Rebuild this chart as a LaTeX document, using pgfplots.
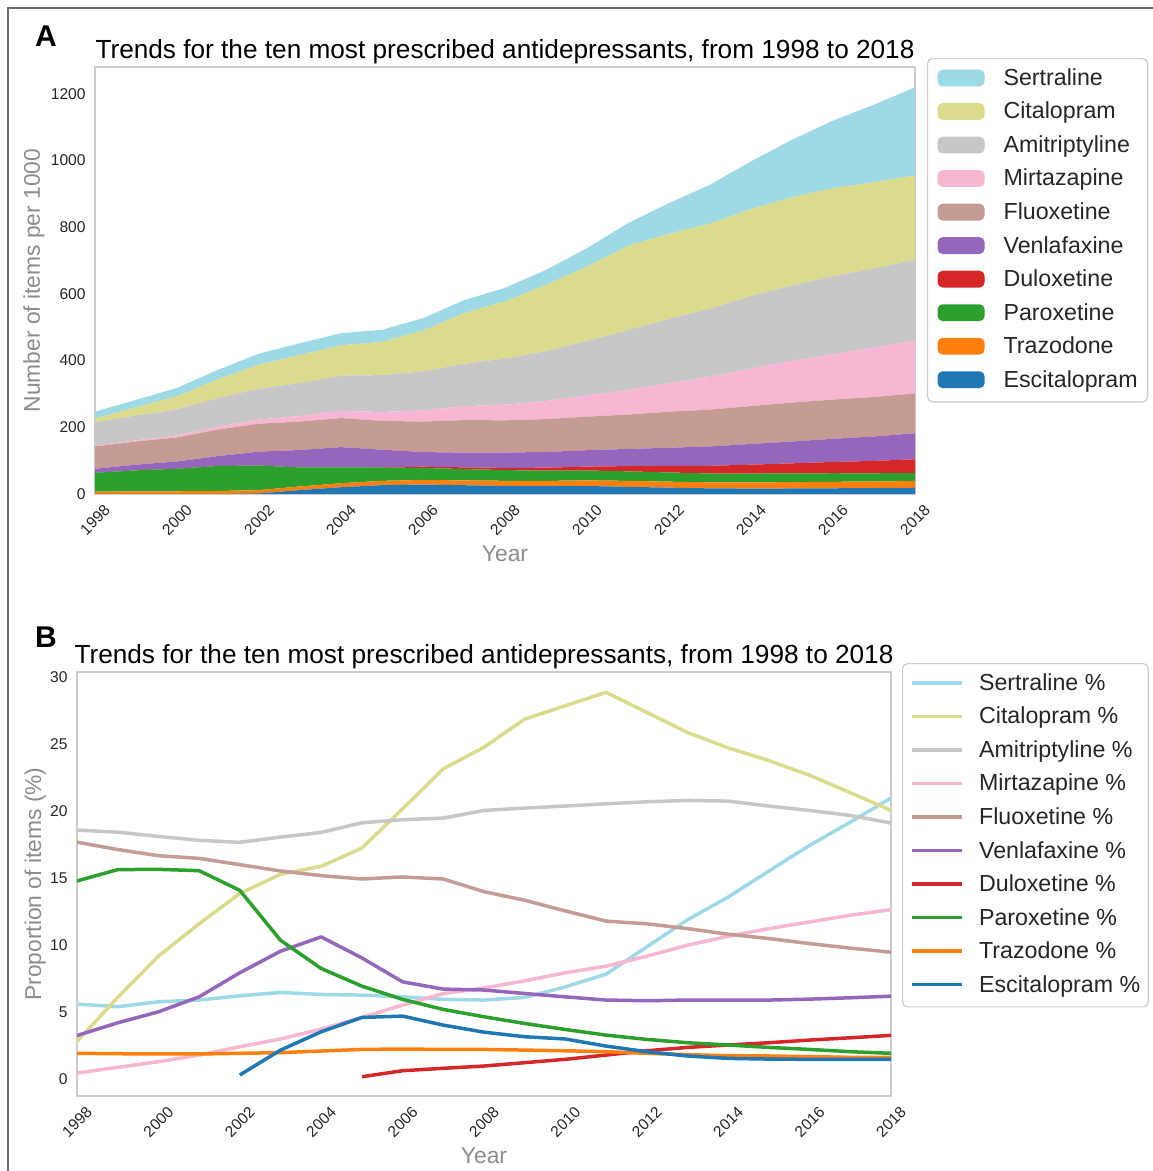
\documentclass[border=0pt]{standalone}
\usepackage{fontspec}
\setmainfont{Liberation Sans}
\usepackage{pgfplots}
\usepackage{pgfplotstable}
\pgfplotsset{compat=1.18}

\definecolor{cSer}{HTML}{9EDAE5}
\definecolor{cCit}{HTML}{DBDB8D}
\definecolor{cAmi}{HTML}{C7C7C7}
\definecolor{cMir}{HTML}{F7B6D2}
\definecolor{cFlu}{HTML}{C49C94}
\definecolor{cVen}{HTML}{9467BD}
\definecolor{cDul}{HTML}{D62728}
\definecolor{cPar}{HTML}{2CA02C}
\definecolor{cTra}{HTML}{FF7F0E}
\definecolor{cEsc}{HTML}{1F77B4}
\definecolor{txt}{HTML}{262626}
\definecolor{lbl}{HTML}{8C8C8C}
\definecolor{spine}{HTML}{CCCCCC}
\definecolor{outline}{HTML}{6E6E6E}

% items per 1000, stacked from the bottom (esc) to the top (ser)
\pgfplotstableread{
year  esc   tra   par   dul   ven   flu    mir    ami    cit    ser
1998  0     7.3   56.1  0     12.3  67.1   1.7    70.5   10.6   21.2
1999  0     7.6   63.3  0     17.0  69.4   3.5    74.6   24.7   21.8
2000  0     8.1   67.7  0     21.7  72.1   5.6    78.3   39.6   24.9
2001  0     9.0   75.0  0     29.6  79.5   8.6    86.0   55.9   28.4
2002  1.6   10.0  73.8  0     41.5  83.8   12.6   92.6   72.5   32.5
2003  11.8  10.8  56.9  0     52.4  85.3   16.4   99.1   83.9   35.5
2004  20.2  12.0  47.4  0     60.9  87.1   21.4   105.7  91.2   36.2
2005  26.6  12.8  40.1  1.0   52.3  86.3   26.6   110.6  99.7   36.2
2006  28.4  13.6  36.0  3.8   43.9  91.4   33.4   117.2  122.2  37.1
2007  26.3  14.4  34.0  5.2   43.9  97.7   41.7   127.4  151.4  38.9
2008  24.2  15.3  32.1  6.7   45.9  96.6   46.9   138.5  171.1  40.7
2009  23.3  15.9  30.6  9.0   47.2  98.6   54.2   149.5  198.6  45.0
2010  23.9  16.9  29.6  11.8  49.1  100.5  63.5   163.2  223.3  55.1
2011  21.5  17.8  28.6  15.6  51.5  103.0  73.6   179.6  252.3  68.4
2012  19.0  17.9  27.6  19.6  54.5  108.0  85.5   192.9  255.1  92.0
2013  16.9  17.9  26.6  23.2  58.0  110.4  98.2   204.5  254.4  116.9
2014  16.2  18.3  26.7  26.7  62.0  113.7  112.1  218.3  260.1  142.9
2015  16.5  19.1  26.2  30.1  65.5  116.6  124.8  226.5  264.2  172.6
2016  17.1  19.4  25.7  33.8  69.4  117.6  136.4  233.2  263.7  202.8
2017  17.8  19.6  24.6  37.2  73.3  118.2  147.9  238.0  258.5  232.0
2018  18.5  20.4  24.2  41.1  77.9  119.4  159.4  240.9  252.7  264.5
}\itemsTable

% share of all antidepressant items (%)
\pgfplotstableread{
year  ser    cit    ami    mir    flu    ven    dul   par    tra   esc
1998  5.60   2.80   18.60  0.45   17.70  3.25   nan   14.80  1.92  nan
1999  5.40   6.10   18.45  0.87   17.15  4.20   nan   15.65  1.89  nan
2000  5.77   9.18   18.13  1.29   16.69  5.02   nan   15.67  1.87  nan
2001  5.90   11.60  17.84  1.79   16.49  6.14   nan   15.57  1.87  nan
2002  6.22   13.86  17.69  2.41   16.02  7.94   nan   14.10  1.92  0.30
2003  6.47   15.30  18.08  2.99   15.55  9.55   nan   10.37  1.97  2.16
2004  6.32   15.90  18.43  3.73   15.20  10.62  nan   8.26   2.09  3.53
2005  6.27   17.26  19.15  4.60   14.95  9.05   0.17  6.94   2.21  4.60
2006  6.14   20.20  19.38  5.52   15.10  7.26   0.62  5.95   2.24  4.70
2007  5.95   23.18  19.50  6.39   14.95  6.72   0.80  5.20   2.21  4.03
2008  5.90   24.80  20.07  6.80   14.00  6.65   0.97  4.65   2.21  3.50
2009  6.10   26.90  20.25  7.34   13.36  6.39   1.22  4.15   2.16  3.16
2010  6.89   27.90  20.40  7.94   12.56  6.14   1.47  3.70   2.11  2.99
2011  7.84   28.90  20.57  8.43   11.80  5.90   1.79  3.28   2.04  2.46
2012  9.88   27.40  20.72  9.18   11.60  5.85   2.11  2.96   1.92  2.04
2013  11.90  25.90  20.82  10.00  11.24  5.90   2.36  2.71   1.82  1.72
2014  13.60  24.75  20.77  10.67  10.82  5.90   2.54  2.54   1.74  1.54
2015  15.55  23.80  20.40  11.24  10.50  5.90   2.71  2.36   1.72  1.49
2016  17.46  22.70  20.07  11.74  10.12  5.97   2.91  2.21   1.67  1.47
2017  19.20  21.40  19.70  12.24  9.78   6.07   3.08  2.04   1.62  1.47
2018  21.00  20.07  19.13  12.66  9.48   6.19   3.26  1.92   1.62  1.47
}\shareTable

\pgfplotsset{
  panel/.style={
    scale only axis,
    axis line style={draw=spine, line width=0.75pt},
    major tick length=0pt,
    xmin=1998, xmax=2018,
    xtick={1998,2000,...,2018},
    /pgf/number format/1000 sep={},
    /pgf/number format/assume math mode=true,
    tick label style={font=\fontsize{7.8}{9}\selectfont, text=txt},
    xticklabel style={rotate=45, anchor=center, inner sep=0pt},
    xticklabel shift=13pt,
    yticklabel style={anchor=east, inner sep=0pt},
    yticklabel shift=4.5pt,
    every axis title/.style={at={(axis description cs:0.5,1)}, anchor=base, yshift=4pt,
      font=\fontsize{13.1}{15}\selectfont, text=black},
    every axis x label/.style={at={(axis description cs:0.5,0)}, anchor=base, yshift=-34pt,
      font=\fontsize{11.4}{13}\selectfont, text=lbl},
    legend cell align=left,
    legend style={draw=spine, rounded corners=2.5pt, line width=0.6pt, fill=white,
      anchor=north west, font=\fontsize{11.6}{13}\selectfont, text=txt,
      row sep=5.96pt, column sep=9.5pt, inner xsep=5pt, inner ysep=5pt,
      nodes={inner sep=0pt, text height=8.4pt, text depth=2.4pt, text=txt}},
  }
}

\begin{document}
\begin{tikzpicture}
\useasboundingbox (0,0) rectangle (576pt,585.5pt);
\draw[outline, line width=1pt] (4pt,0) -- (4pt,581.5pt) -- (577pt,581.5pt);

\node[anchor=base west, font=\bfseries\fontsize{15}{18}\selectfont] at (14pt,562pt) {A};
\node[anchor=base west, font=\bfseries\fontsize{15}{18}\selectfont] at (14pt,261.5pt) {B};

% Panel A: stacked areas
\begin{axis}[panel,
  at={(47.5pt,338.5pt)}, anchor=south west,
  width=410pt, height=213.5pt,
  ymin=0, ymax=1280,
  ytick={0,200,...,1200},
  stack plots=y,
  title={Trends for the ten most prescribed antidepressants, from 1998 to 2018},
  xlabel={Year},
  ylabel={Number of items per 1000},
  every axis y label/.style={at={(axis description cs:-0.0671,0.5)}, rotate=90, anchor=base,
    font=\fontsize{11.4}{13}\selectfont, text=lbl},
  legend style={at={(axis description cs:1.0146,1.021)}},
  legend image code/.code={\fill[#1] (0pt,-3.5pt) rectangle (23.5pt,4.9pt);},
  reverse legend,
]
\addplot[fill=cEsc, draw=none] table[x=year, y=esc]{\itemsTable} \closedcycle;
\addlegendentry{Escitalopram}
\addplot[fill=cTra, draw=none] table[x=year, y=tra]{\itemsTable} \closedcycle;
\addlegendentry{Trazodone}
\addplot[fill=cPar, draw=none] table[x=year, y=par]{\itemsTable} \closedcycle;
\addlegendentry{Paroxetine}
\addplot[fill=cDul, draw=none] table[x=year, y=dul]{\itemsTable} \closedcycle;
\addlegendentry{Duloxetine}
\addplot[fill=cVen, draw=none] table[x=year, y=ven]{\itemsTable} \closedcycle;
\addlegendentry{Venlafaxine}
\addplot[fill=cFlu, draw=none] table[x=year, y=flu]{\itemsTable} \closedcycle;
\addlegendentry{Fluoxetine}
\addplot[fill=cMir, draw=none] table[x=year, y=mir]{\itemsTable} \closedcycle;
\addlegendentry{Mirtazapine}
\addplot[fill=cAmi, draw=none] table[x=year, y=ami]{\itemsTable} \closedcycle;
\addlegendentry{Amitriptyline}
\addplot[fill=cCit, draw=none] table[x=year, y=cit]{\itemsTable} \closedcycle;
\addlegendentry{Citalopram}
\addplot[fill=cSer, draw=none] table[x=year, y=ser]{\itemsTable} \closedcycle;
\addlegendentry{Sertraline}
\end{axis}

% Panel B: proportions
\begin{axis}[panel,
  at={(38.5pt,37.5pt)}, anchor=south west,
  width=407pt, height=212pt,
  ymin=-1.27, ymax=30.42,
  ytick={0,5,...,30},
  title={Trends for the ten most prescribed antidepressants, from 1998 to 2018},
  xlabel={Year},
  ylabel={Proportion of items (\%)},
  every axis y label/.style={at={(axis description cs:-0.0442,0.5)}, rotate=90, anchor=base,
    font=\fontsize{11.4}{13}\selectfont, text=lbl},
  legend style={at={(axis description cs:1.0135,1.0212)}, column sep=7.5pt, inner xsep=4pt},
  legend image code/.code={\draw[#1] (0pt,0.7pt) -- (25pt,0.7pt);},
  every axis plot/.append style={line width=1.75pt, line join=round},
]
\addplot[cSer] table[x=year, y=ser]{\shareTable};
\addlegendentry{Sertraline \%}
\addplot[cCit] table[x=year, y=cit]{\shareTable};
\addlegendentry{Citalopram \%}
\addplot[cAmi] table[x=year, y=ami]{\shareTable};
\addlegendentry{Amitriptyline \%}
\addplot[cMir] table[x=year, y=mir]{\shareTable};
\addlegendentry{Mirtazapine \%}
\addplot[cFlu] table[x=year, y=flu]{\shareTable};
\addlegendentry{Fluoxetine \%}
\addplot[cVen] table[x=year, y=ven]{\shareTable};
\addlegendentry{Venlafaxine \%}
\addplot[cDul] table[x=year, y=dul]{\shareTable};
\addlegendentry{Duloxetine \%}
\addplot[cPar] table[x=year, y=par]{\shareTable};
\addlegendentry{Paroxetine \%}
\addplot[cTra] table[x=year, y=tra]{\shareTable};
\addlegendentry{Trazodone \%}
\addplot[cEsc] table[x=year, y=esc]{\shareTable};
\addlegendentry{Escitalopram \%}
\end{axis}
\end{tikzpicture}
\end{document}
